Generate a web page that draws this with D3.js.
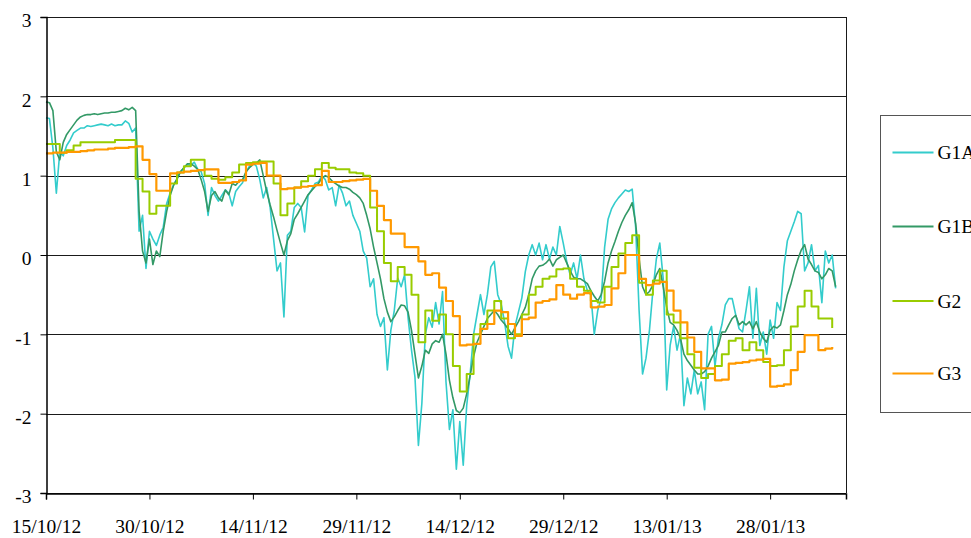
<!DOCTYPE html>
<html>
<head>
<meta charset="utf-8">
<script src="https://d3js.org/d3.v7.min.js"></script>
<style>
  body { margin: 0; background: #fff; }
  svg { display: block; }
  .tick-label { font-family: "Liberation Serif", "Times New Roman", serif; font-size: 19.5px; fill: #000; }
</style>
</head>
<body>
<div id="chart"></div>
<script>
// start of the series, one value per half day (G1A, G1B) or per day (G2, G3)
const startDay = "15/10/12";
const endDay = "08/02/13";
const xTickLabels = ["15/10/12", "30/10/12", "14/11/12", "29/11/12", "14/12/12", "29/12/12", "13/01/13", "28/01/13"];
const yTicks = [-3, -2, -1, 0, 1, 2, 3];
const seriesNames = ["G1A", "G1B", "G2", "G3"];

const g1aStep = 0.5;
const g1a = [
  1.73,1.72,1.35,0.78,1.3,1.25,1.38,1.45,1.54,1.57,1.6,1.6,1.63,1.62,1.63,1.64,1.65,1.64,1.63,1.65,1.63,1.64,1.64,1.69,1.66,1.55,1.6,
  0.3,0.5,-0.17,0.3,0.2,0.12,0.25,0.35,0.65,0.78,0.88,0.96,1.05,1.1,1.14,1.13,1.17,1.08,1.05,0.9,0.5,0.85,
  0.75,0.68,0.75,0.82,0.78,0.62,0.8,0.86,0.91,1.04,1.12,1.16,1.12,0.95,0.72,0.85,0.6,0.2,-0.2,-0.1,
  -0.78,0.25,0.3,0.6,0.65,0.6,0.29,0.75,0.82,0.9,0.92,1.0,0.95,0.82,0.85,0.62,0.88,0.78,0.62,0.68,
  0.5,0.4,0.3,0.05,-0.04,-0.4,-0.3,-0.75,-0.9,-0.79,-1.45,
  -0.95,-0.7,-0.29,-0.4,-0.25,-0.79,-1.2,-1.54,-2.4,-1.87,-1.0,-0.79,-0.91,-0.6,-0.87,-0.46,-1.6,-2.2,-1.95,-2.7,
  -2.1,-2.65,-1.9,-1.5,-1.0,-0.75,-0.5,-0.75,-0.5,-0.15,-0.08,-0.5,-0.62,-0.85,-1.15,-1.3,-0.9,-0.72,-0.54,-0.21,
  0.0,0.13,0.0,0.15,-0.06,0.13,-0.05,0.1,0.0,0.36,0.15,-0.08,-0.25,-0.1,-0.3,0.0,-0.3,-0.45,-0.5,-1.0,
  -0.7,-0.55,0.1,0.45,0.58,0.66,0.72,0.77,0.82,0.8,0.83,0.35,-0.7,-1.5,-1.3,-0.95,-0.45,-0.05,0.15,-0.3,
  -1.7,-1.14,-0.9,-1.2,-1.0,-1.9,-1.55,-1.75,-1.45,-1.75,
  -1.6,-1.95,-1.0,-0.9,-1.4,-1.05,-0.88,-0.63,-0.55,-0.55,-0.75,-0.93,-0.97,-0.7,-0.4,-1.05,-0.42,-1.14,-0.97,-1.25,
  -0.82,-1.05,-0.6,-0.7,-0.15,0.18,0.3,0.42,0.55,0.52,-0.2,-0.1,0.13,-0.2,-0.13,-0.6,0.05,-0.1,0.0,-0.42
];

const g1bStep = 0.5;
const g1b = [
  1.93,1.92,1.82,1.3,1.2,1.42,1.52,1.58,1.64,1.7,1.74,1.76,1.77,1.77,1.78,1.77,1.78,1.79,1.79,1.8,1.8,1.81,1.82,1.85,1.83,1.86,1.82,
  0.55,0.05,-0.1,0.2,-0.12,0.05,-0.02,0.3,0.55,0.75,0.88,0.96,1.05,1.1,1.15,1.15,1.12,1.08,0.95,0.8,0.55,0.75,
  0.8,0.72,0.68,0.82,0.76,0.9,0.88,0.93,0.95,1.05,1.1,1.14,1.16,1.2,1.0,0.8,0.63,0.48,0.31,0.15,
  0.0,0.18,0.27,0.45,0.52,0.6,0.68,0.76,0.81,0.86,0.9,0.97,1.0,0.98,0.93,0.9,0.87,0.85,0.85,0.83,
  0.79,0.76,0.72,0.65,0.5,0.33,0.1,-0.1,-0.3,-0.55,-0.72,
  -0.84,-0.78,-0.7,-0.63,-0.64,-0.72,-0.95,-1.25,-1.55,-1.4,-1.2,-1.24,-1.12,-1.08,-1.1,-1.0,-1.25,-1.58,-1.8,-1.96,
  -1.99,-1.93,-1.75,-1.52,-1.28,-1.1,-1.0,-0.9,-0.8,-0.75,-0.7,-0.75,-0.82,-0.87,-0.93,-1.0,-0.92,-0.84,-0.75,-0.66,
  -0.5,-0.3,-0.2,-0.14,-0.13,-0.1,-0.05,-0.14,-0.06,-0.03,0.0,-0.1,-0.2,-0.28,-0.3,-0.3,-0.33,-0.36,-0.45,-0.52,
  -0.58,-0.5,-0.33,-0.1,0.05,0.17,0.3,0.41,0.5,0.57,0.66,0.4,-0.05,-0.4,-0.5,-0.46,-0.38,-0.25,-0.17,-0.4,
  -0.66,-0.85,-0.88,-0.95,-1.05,-1.25,-1.33,-1.39,-1.45,-1.5,
  -1.5,-1.47,-1.4,-1.3,-1.22,-1.14,-0.97,-0.97,-0.88,-0.8,-0.76,-0.88,-0.84,-0.88,-0.84,-0.93,-0.84,-0.97,-1.05,-1.1,
  -0.95,-0.9,-0.92,-0.88,-0.7,-0.5,-0.37,-0.2,-0.06,0.06,0.13,-0.05,-0.12,-0.2,-0.22,-0.3,-0.25,-0.17,-0.2,-0.4
];

const g2Step = 1;
const g2 = [
  1.4,1.4,1.29,1.32,1.38,1.42,1.42,1.42,1.42,1.42,
  1.45,1.45,1.45,0.96,0.8,0.52,0.62,0.62,0.9,1.04,
  1.12,1.2,1.2,1.0,0.96,0.95,0.98,1.04,1.14,1.16,
  1.17,1.18,1.18,0.9,0.5,0.65,0.85,0.93,1.0,1.08,
  1.16,1.1,1.08,1.08,1.04,1.03,1.0,0.6,0.3,-0.1,
  -0.33,-0.15,-0.25,-0.5,-1.1,-0.7,-0.83,-0.75,-1.0,-1.4,
  -1.72,-1.5,-1.0,-0.87,-0.7,-0.58,-0.8,-1.05,-1.0,-0.75,
  -0.5,-0.4,-0.3,-0.27,-0.18,-0.17,-0.3,-0.4,-0.45,-0.58,
  -0.6,-0.4,-0.15,0.02,0.15,0.25,-0.35,-0.5,-0.32,-0.2,
  -0.75,-0.85,-1.05,-1.25,-1.42,-1.55,-1.5,-1.4,-1.25,-1.08,
  -1.05,-1.2,-1.1,-1.2,-1.35,-1.4,-1.39,-1.2,-0.9,-0.65,
  -0.45,-0.65,-0.8,-0.8,-0.92
];

const g3Step = 1;
const g3 = [
  1.28,1.29,1.29,1.3,1.3,1.31,1.32,1.33,1.33,1.34,
  1.35,1.35,1.36,1.37,1.2,1.02,0.81,0.81,1.03,1.04,
  1.05,1.06,1.07,1.08,1.08,0.91,0.91,0.92,0.94,1.14,
  1.15,1.16,1.0,1.0,0.83,0.84,0.85,0.86,0.87,0.88,
  1.06,0.92,0.92,0.93,0.94,0.95,0.96,0.81,0.62,0.44,
  0.27,0.27,0.1,0.1,-0.08,-0.25,-0.23,-0.41,-0.58,-0.77,
  -1.14,-1.13,-1.12,-0.93,-0.87,-0.7,-0.72,-0.87,-1.02,-0.81,
  -0.79,-0.6,-0.58,-0.56,-0.38,-0.5,-0.55,-0.5,-0.48,-0.66,
  -0.65,-0.63,-0.42,-0.23,0.0,0.0,-0.3,-0.38,-0.36,-0.34,
  -0.45,-0.7,-0.85,-1.04,-1.22,-1.43,-1.43,-1.58,-1.57,-1.37,
  -1.36,-1.35,-1.33,-1.32,-1.31,-1.66,-1.65,-1.63,-1.45,-1.22,
  -1.01,-1.01,-1.2,-1.18,-1.16
];

const colors = ["#33CCCC", "#339966", "#99CC00", "#FF9900"];

const W = 971, H = 538;
const margin = { left: 46, right: 123, top: 17, bottom: 45 };
const parseDay = d3.timeParse("%d/%m/%y");
const fmtDay = d3.timeFormat("%d/%m/%y");
const t0 = parseDay(startDay);
const DAY = 864e5;

const x = d3.scaleTime()
  .domain([t0, parseDay(endDay)])
  .range([margin.left, W - margin.right - 2]);
const y = d3.scaleLinear()
  .domain([-3, 3])
  .range([H - margin.bottom, margin.top]);

function toPoints(values, step) {
  return values.map((v, i) => ({ date: new Date(t0.getTime() + i * step * DAY), value: v }));
}

const series = [
  { name: seriesNames[0], pts: toPoints(g1a, g1aStep), curve: d3.curveLinear, w: 1.6 },
  { name: seriesNames[1], pts: toPoints(g1b, g1bStep), curve: d3.curveLinear, w: 1.6 },
  { name: seriesNames[2], pts: toPoints(g2, g2Step), curve: d3.curveStepAfter, w: 2 },
  { name: seriesNames[3], pts: toPoints(g3, g3Step), curve: d3.curveStepAfter, w: 2.2 }
];

const svg = d3.select("#chart").append("svg")
  .attr("width", W).attr("height", H);

const x0 = x.range()[0], x1 = x.range()[1];

// horizontal gridlines
svg.append("g").selectAll("line")
  .data(yTicks)
  .join("line")
  .attr("x1", x0).attr("x2", x1)
  .attr("y1", d => Math.round(y(d)) + 0.5).attr("y2", d => Math.round(y(d)) + 0.5)
  .attr("stroke", "#1a1a1a").attr("stroke-width", 1);

// right border of plot area
svg.append("line")
  .attr("x1", Math.round(x1) + 0.5).attr("x2", Math.round(x1) + 0.5)
  .attr("y1", y(3)).attr("y2", y(-3))
  .attr("stroke", "#1a1a1a").attr("stroke-width", 1);

// lines
const line = d3.line().x(d => x(d.date)).y(d => y(d.value));
svg.append("g").selectAll("path")
  .data(series)
  .join("path")
  .attr("fill", "none")
  .attr("stroke", (d, i) => colors[i])
  .attr("stroke-width", d => d.w)
  .attr("stroke-linejoin", "round")
  .attr("d", d => line.curve(d.curve)(d.pts));

// y axis
const yAxis = svg.append("g")
  .attr("transform", `translate(${x0 + 0.5},0)`)
  .call(d3.axisLeft(y).tickValues(yTicks).tickSize(6).tickPadding(9).tickFormat(d => String(d)));
yAxis.attr("font-family", null).attr("font-size", null);
yAxis.select(".domain").attr("stroke", "#000").attr("stroke-width", 1.5);
yAxis.selectAll(".tick line").attr("stroke", "#000");
yAxis.selectAll(".tick text").attr("class", "tick-label").attr("dy", "0.5em");

// x axis
const xAxis = svg.append("g")
  .attr("transform", `translate(0,${Math.round(y(-3)) + 0.5})`)
  .call(d3.axisBottom(x).tickValues(xTickLabels.map(parseDay)).tickSize(6).tickPadding(20).tickFormat(fmtDay));
xAxis.attr("font-family", null).attr("font-size", null);
xAxis.select(".domain").attr("stroke", "#000").attr("stroke-width", 1.5);
xAxis.selectAll(".tick line").attr("stroke", "#000");
xAxis.selectAll(".tick text").attr("class", "tick-label");

// legend
const legend = svg.append("g").attr("transform", "translate(880.5,115.5)");
legend.append("rect")
  .attr("width", 120).attr("height", 297)
  .attr("fill", "#fff").attr("stroke", "#555").attr("stroke-width", 1);
const rowY = [37, 111, 185.5, 258];
const item = legend.selectAll("g.item")
  .data(seriesNames)
  .join("g").attr("class", "item")
  .attr("transform", (d, i) => `translate(0,${rowY[i]})`);
item.append("line")
  .attr("x1", 12).attr("x2", 53)
  .attr("stroke", (d, i) => colors[i]).attr("stroke-width", 2);
item.append("text")
  .attr("class", "tick-label")
  .attr("x", 57).attr("dy", "0.35em")
  .text(d => d);
</script>
</body>
</html>
